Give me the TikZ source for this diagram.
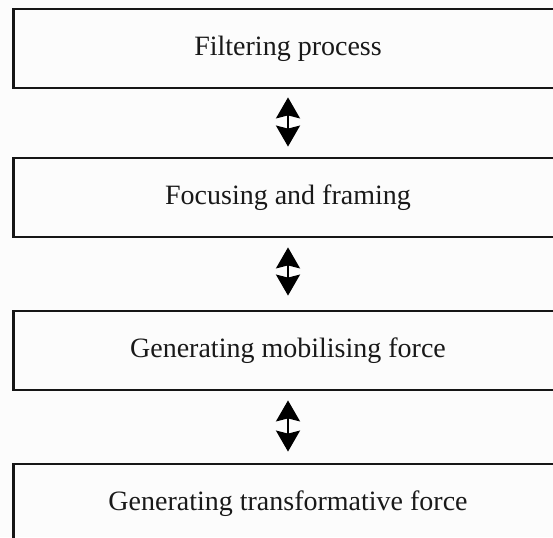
\documentclass[tikz,border=0pt]{standalone}
\usepackage{fontspec}
\setmainfont{Liberation Serif}
\usetikzlibrary{arrows.meta}
\definecolor{bgc}{HTML}{FCFCFC}
\definecolor{linec}{HTML}{161616}
\begin{document}
\begin{tikzpicture}[x=1pt,y=1pt,
  stagebox/.style={draw=linec, line width=2.8pt, minimum width=549pt, minimum height=79pt,
    inner sep=0pt, text height=20pt, text depth=5pt, text=black!90, font=\fontsize{28}{32}\selectfont},
  dblarrow/.style={line width=2pt, {Stealth[length=21pt,width=24pt,inset=3pt]}-{Stealth[length=21pt,width=24pt,inset=3pt]}}]
\useasboundingbox (0,0) rectangle (553,537);
\clip (0,0) rectangle (553,537);
\fill[bgc] (0,0) rectangle (553,537);
\node[stagebox] (b1) at (288,488.5) {Filtering process};
\node[stagebox] (b2) at (288,339.5) {Focusing and framing};
\node[stagebox] (b3) at (288,186.5) {Generating mobilising force};
\node[stagebox] (b4) at (288,33.5) {Generating transformative force};
\draw[dblarrow, shorten <=8pt, shorten >=10pt] (b1.south) -- (b2.north);
\draw[dblarrow, shorten <=9pt, shorten >=14pt] (b2.south) -- (b3.north);
\draw[dblarrow, shorten <=9pt, shorten >=11pt] (b3.south) -- (b4.north);
\end{tikzpicture}
\end{document}
